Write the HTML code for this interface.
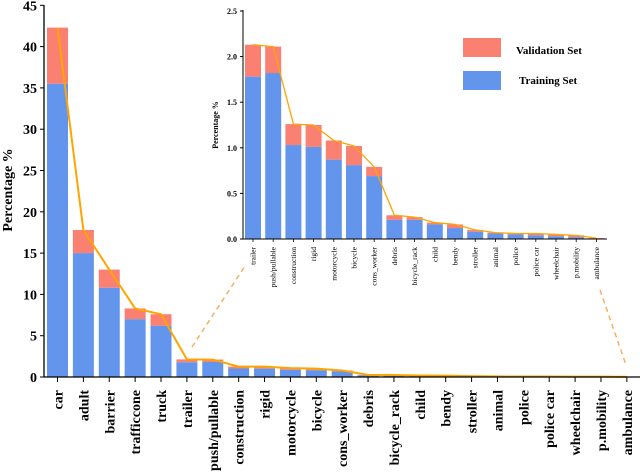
<!DOCTYPE html>
<html><head><meta charset="utf-8"><style>
body{margin:0;background:#fff}
svg{display:block;font-family:"Liberation Serif",serif;font-weight:bold}
</style></head><body>
<svg id="c" width="640" height="472" viewBox="0 0 640 472"></svg>
<script>
const categories=["car","adult","barrier","trafficcone","truck","trailer","push/pullable","construction","rigid","motorcycle","bicycle","cons_worker","debris","bicycle_rack","child","bendy","stroller","animal","police","police car","wheelchair","p.mobility","ambulance"];
const trainVals=[35.5,15.0,10.8,7.0,6.2,1.78,1.82,1.03,1.01,0.87,0.81,0.69,0.21,0.21,0.16,0.12,0.08,0.06,0.05,0.04,0.03,0.02,0.005];
const totalVals=[42.3,17.8,13.0,8.3,7.6,2.13,2.11,1.26,1.25,1.08,1.02,0.79,0.26,0.24,0.18,0.16,0.10,0.07,0.06,0.06,0.05,0.04,0.01];
const mainTicks=[0,5,10,15,20,25,30,35,40,45];
const insetTicks=[0,0.5,1.0,1.5,2.0,2.5];
const insetStart=5;
const NS="http://www.w3.org/2000/svg";
const svg=document.getElementById('c');
function mk(t,a,p){const e=document.createElementNS(NS,t);for(const k in a)e.setAttribute(k,a[k]);(p||svg).appendChild(e);return e;}
const TRAIN="#6495ed",VAL="#fa8072",LINE="#ffa500";
// main axes
const mx=i=>57.5+i*25.88, my=v=>377-v*8.26;
let g=mk('g',{});
categories.forEach((c,i)=>{
  let r=mk('rect',{x:mx(i)-10.5,y:my(totalVals[i]),width:21,height:my(trainVals[i])-my(totalVals[i]),fill:VAL},g);
  
  r=mk('rect',{x:mx(i)-10.5,y:my(trainVals[i]),width:21,height:377-my(trainVals[i]),fill:TRAIN},g);
  
  mk('line',{x1:mx(i),x2:mx(i),y1:377,y2:382,stroke:'#000','stroke-width':1},g);
  let t=mk('text',{x:0,y:0,transform:`translate(${mx(i)+5},390) rotate(-90)`,'text-anchor':'end','font-size':14},g);
  t.textContent=c;
});
let p=mk('polyline',{points:categories.map((c,i)=>mx(i)+','+my(totalVals[i])).join(' '),fill:'none',stroke:LINE,'stroke-width':2},g);

mk('line',{x1:44,x2:44,y1:5,y2:377,stroke:'#000','stroke-width':1.3},g);
mk('line',{x1:44,x2:640,y1:377,y2:377,stroke:'#000','stroke-width':1.3},g);
mainTicks.forEach(v=>{
  mk('line',{x1:40,x2:44,y1:my(v),y2:my(v),stroke:'#000'},g);
  let t=mk('text',{x:37,y:my(v)+5,'text-anchor':'end','font-size':14},g);t.textContent=v;
  
});
let yt=mk('text',{transform:'translate(12,190) rotate(-90)','text-anchor':'middle','font-size':14},g);
yt.textContent='Percentage %';
// dashed connectors
let d1=mk('line',{x1:192,y1:347,x2:245,y2:266,stroke:'#f8b060','stroke-width':1.5,'stroke-dasharray':'5,4'});

let d2=mk('line',{x1:600,y1:290,x2:626,y2:365,stroke:'#f8b060','stroke-width':1.5,'stroke-dasharray':'5,4'});

// inset
const ix=i=>253+i*20.2, iy=v=>239-v*91.2;
let h=mk('g',{});
const ic=categories.slice(insetStart),itr=trainVals.slice(insetStart),ito=totalVals.slice(insetStart);
ic.forEach((c,i)=>{
  let r=mk('rect',{x:ix(i)-8,y:iy(ito[i]),width:16,height:iy(itr[i])-iy(ito[i]),fill:VAL},h);
  
  r=mk('rect',{x:ix(i)-8,y:iy(itr[i]),width:16,height:239-iy(itr[i]),fill:TRAIN},h);
  
  mk('line',{x1:ix(i),x2:ix(i),y1:239,y2:242,stroke:'#000','stroke-width':0.8},h);
  let t=mk('text',{transform:`translate(${ix(i)+2.5},247) rotate(-90)`,'text-anchor':'end','font-size':7.5,'font-weight':'normal'},h);
  t.textContent=c;
});
p=mk('polyline',{points:ic.map((c,i)=>ix(i)+','+iy(ito[i])).join(' '),fill:'none',stroke:LINE,'stroke-width':1.3},h);

mk('line',{x1:243,x2:243,y1:10,y2:239,stroke:'#000','stroke-width':1},h);
mk('line',{x1:243,x2:607,y1:239,y2:239,stroke:'#000','stroke-width':1},h);
insetTicks.forEach(v=>{
  mk('line',{x1:240,x2:243,y1:iy(v),y2:iy(v),stroke:'#000'},h);
  let t=mk('text',{x:237,y:iy(v)+3,'text-anchor':'end','font-size':8},h);t.textContent=v.toFixed(1);
  
});
yt=mk('text',{transform:'translate(218,125) rotate(-90)','text-anchor':'middle','font-size':8},h);
yt.textContent='Percentage %';
// legend
let L=mk('g',{});
mk('rect',{x:463,y:38,width:38,height:19,fill:VAL},L);
let lt=mk('text',{x:516,y:54,'font-size':11},L);lt.textContent='Validation Set';

mk('rect',{x:463,y:71,width:38,height:19,fill:TRAIN},L);
lt=mk('text',{x:519,y:84,'font-size':11},L);lt.textContent='Training Set';

</script>
</body></html>
